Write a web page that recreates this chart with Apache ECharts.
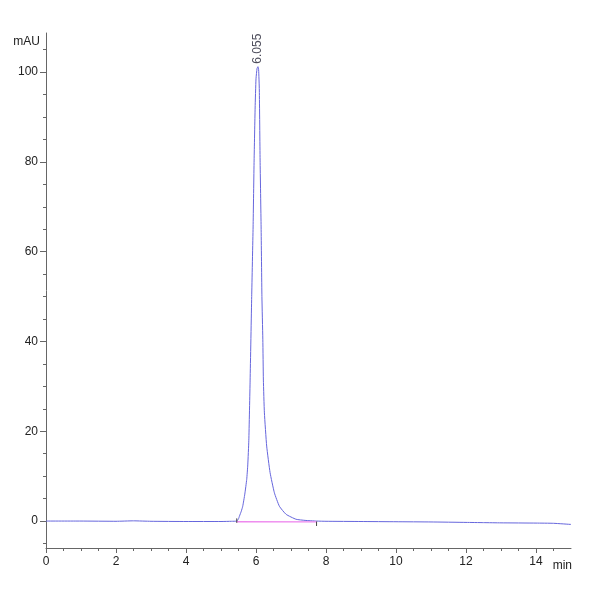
<!DOCTYPE html>
<html>
<head>
<meta charset="utf-8">
<script src="https://cdn.jsdelivr.net/npm/echarts@6/dist/echarts.min.js"></script>
<style>html,body{margin:0;padding:0;background:#fff}#c{width:600px;height:600px}</style>
</head>
<body>
<div id="c"></div>
<script>
// Chromatogram signal (time in min, absorbance in mAU)
var times = [0, 1, 2, 2.5, 3, 4, 5, 5.3, 5.45, 5.50, 5.527, 5.58, 5.621, 5.68, 5.735, 5.765, 5.795, 5.832, 5.877, 5.917, 5.946, 5.975, 6.00, 6.03, 6.055, 6.075, 6.095, 6.117, 6.146, 6.169, 6.195, 6.211, 6.240, 6.305, 6.402, 6.525, 6.668, 6.859, 7.144, 7.4, 7.73, 8, 9, 10, 11, 12, 12.5, 13, 14, 14.5, 15];
var values = [0, 0, -0.05, 0.05, -0.05, -0.1, -0.1, -0.05, 0.0, 0.5, 1.1, 2.2, 3.3, 6.0, 9.3, 12.5, 18, 31.4, 50, 65.5, 80.4, 92, 98.5, 100.8, 101.2, 100.5, 96, 80.4, 65.5, 50, 40.5, 31.4, 24.1, 16.7, 10.8, 6.3, 3.3, 1.5, 0.4, 0.15, 0.0, -0.05, -0.1, -0.15, -0.2, -0.3, -0.35, -0.4, -0.45, -0.5, -0.75];
// Integration baseline (peak start -> peak end)
var baseTimes = [5.45, 7.73];
var baseValues = [-0.15, -0.2];
// Peak annotation
var peakTimes = [6.055];
var peakHeights = [101.2];
var peakLabels = ['6.055'];
// Axis ticks
var xLabelTicks = [0, 2, 4, 6, 8, 10, 12, 14];
var xMinorTicks = [0.5, 1, 1.5, 2.5, 3, 3.5, 4.5, 5, 5.5, 6.5, 7, 7.5, 8.5, 9, 9.5, 10.5, 11, 11.5, 12.5, 13, 13.5, 14.5];
var yLabelTicks = [0, 20, 40, 60, 80, 100];
var yMinorTicks = [-5, 5, 10, 15, 25, 30, 35, 45, 50, 55, 65, 70, 75, 85, 90, 95, 105];

var signal = times.map(function (t, i) { return [t, values[i]]; });
var baseline = baseTimes.map(function (t, i) { return [t, baseValues[i]]; });
var startMark = [[baseTimes[0], baseValues[0] + 0.75], [baseTimes[0], baseValues[0] - 0.25]];
var endMark = [[baseTimes[1], baseValues[1] + 0.1], [baseTimes[1], baseValues[1] - 0.9]];
var peaks = peakTimes.map(function (t, i) { return { value: [t, peakHeights[i]], name: peakLabels[i] }; });

var FONT = "'Liberation Sans Narrow', 'Arial Narrow', 'Liberation Sans', sans-serif";
var AX = '#666';
var chart = echarts.init(document.getElementById('c'), null, { renderer: 'canvas' });
chart.setOption({
  backgroundColor: '#fff',
  animation: false,
  grid: { left: 46, right: 29, top: 33, bottom: 52, containLabel: false },
  xAxis: [{
    type: 'value', min: 0, max: 15, interval: 2, position: 'bottom',
    axisLine: { show: true, onZero: false, lineStyle: { color: AX, width: 1 } },
    axisTick: { show: true, length: 5, customValues: xLabelTicks, lineStyle: { color: AX } },
    axisLabel: { customValues: xLabelTicks, margin: 8, color: '#222', fontSize: 12, fontFamily: FONT },
    splitLine: { show: false }
  }, {
    type: 'value', min: 0, max: 15, position: 'bottom',
    axisLine: { show: false, onZero: false },
    axisTick: { show: true, length: 3, customValues: xMinorTicks, lineStyle: { color: AX } },
    axisLabel: { show: false },
    splitLine: { show: false }
  }],
  yAxis: [{
    type: 'value', min: -6, max: 108.7, position: 'left',
    axisLine: { show: true, onZero: false, lineStyle: { color: AX, width: 1 } },
    axisTick: { show: true, length: 6, customValues: yLabelTicks, lineStyle: { color: AX } },
    axisLabel: { customValues: yLabelTicks, margin: 8, color: '#222', fontSize: 12, fontFamily: FONT },
    splitLine: { show: false }
  }, {
    type: 'value', min: -6, max: 108.7, position: 'left',
    axisLine: { show: false, onZero: false },
    axisTick: { show: true, length: 3, customValues: yMinorTicks, lineStyle: { color: AX } },
    axisLabel: { show: false },
    splitLine: { show: false }
  }],
  graphic: [
    { type: 'text', x: 40, y: 42, style: { text: 'mAU', fill: '#222', font: '12px ' + FONT, align: 'right', verticalAlign: 'middle' } },
    { type: 'text', x: 572, y: 566, style: { text: 'min', fill: '#222', font: '12px ' + FONT, align: 'right', verticalAlign: 'middle' } }
  ],
  series: [{
    type: 'line', data: signal, showSymbol: false, smooth: 0.15,
    lineStyle: { color: '#6666dd', width: 1 }, z: 3
  }, {
    type: 'line', data: baseline, showSymbol: false,
    lineStyle: { color: '#ee88ee', width: 1.3 }, z: 4
  }, {
    type: 'line', data: startMark, showSymbol: false,
    lineStyle: { color: '#444', width: 1 }, z: 5
  }, {
    type: 'line', data: endMark, showSymbol: false,
    lineStyle: { color: '#444', width: 1 }, z: 5
  }, {
    type: 'scatter', data: peaks, symbolSize: 0, z: 6,
    label: {
      show: true, position: 'top', distance: 3, rotate: 90,
      align: 'left', verticalAlign: 'middle',
      formatter: function (p) { return p.name; },
      color: '#223', fontSize: 12, fontFamily: "'Liberation Sans', Arial, sans-serif"
    }
  }]
});
</script>
</body>
</html>
